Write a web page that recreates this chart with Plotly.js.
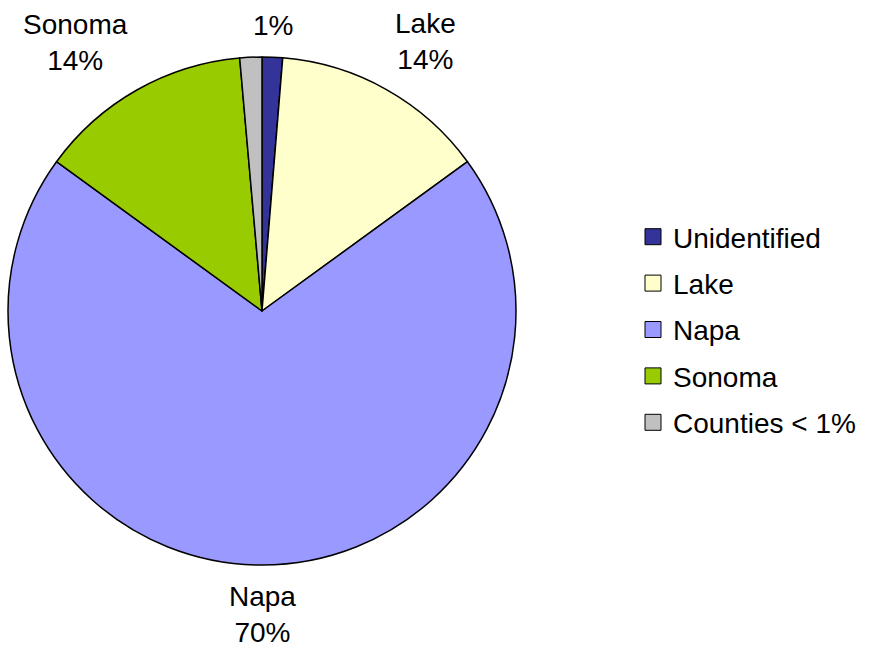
<!DOCTYPE html>
<html>
<head>
<meta charset="utf-8">
<script src="https://cdn.plot.ly/plotly-3.0.1.min.js"></script>
<style>html,body{margin:0;padding:0;background:#fff;}#chart{width:869px;height:652px;}</style>
</head>
<body>
<div id="chart"></div>
<script>
const categories = ["Unidentified", "Lake", "Napa", "Sonoma", "Counties < 1%"];
const values = [1.3, 13.7, 70.0, 13.6, 1.4];
const sliceText = ["1%", "Lake<br>14%", "Napa<br>70%", "Sonoma<br>14%", ""];
const colors = ["#333399", "#FFFFCC", "#9999FF", "#99CC00", "#C0C0C0"];

const W = 869, H = 652;
const FONT = "Liberation Sans, Arial, sans-serif";
const FS = 28;

// pie domain (paper fractions)
const domX = [8 / W, 516 / W];
const domY = [(H - 565) / H, (H - 57) / H];

const pie = {
  type: "pie",
  labels: categories,
  values: values,
  textinfo: "none",
  sort: false,
  direction: "clockwise",
  rotation: 0,
  showlegend: false,
  hoverinfo: "label+percent",
  marker: { colors: colors, line: { color: "#000", width: 1.5 } },
  domain: { x: domX, y: domY }
};

// outside labels, placed at each slice's mid-angle derived from the values
const total = values.reduce((a, b) => a + b, 0);
const cx = (domX[0] + domX[1]) / 2 * W;
const cy = H - (domY[0] + domY[1]) / 2 * H;
const R = Math.min((domX[1] - domX[0]) * W, (domY[1] - domY[0]) * H) / 2;
const GAP = 14;
let cum = 0;
const annotations = [];
values.forEach((v, i) => {
  const mid = (cum + v / 2) / total * 2 * Math.PI;
  cum += v;
  if (!sliceText[i]) return;
  const s = Math.sin(mid), c = Math.cos(mid);
  const px = cx + (R + GAP) * s;
  const py = cy - (R + GAP) * c;
  annotations.push({
    xref: "paper", yref: "paper",
    x: px / W, y: 1 - py / H,
    text: sliceText[i],
    showarrow: false,
    xanchor: Math.abs(s) < 0.2 ? "center" : (s > 0 ? "left" : "right"),
    yanchor: Math.abs(c) < 0.2 ? "middle" : (c > 0 ? "bottom" : "top"),
    font: { family: FONT, size: FS, color: "#000" },
    align: "center"
  });
});

const legendTraces = categories.map((c, i) => ({
  type: "scatter",
  x: [null], y: [null],
  mode: "markers",
  name: c,
  legendgroup: "g" + i,
  showlegend: true,
  marker: { symbol: "square", size: 16, color: colors[i], line: { color: "#000", width: 1 } },
  hoverinfo: "skip"
}));

const layout = {
  width: W, height: H,
  margin: { l: 0, r: 0, t: 0, b: 0 },
  paper_bgcolor: "#fff",
  plot_bgcolor: "#fff",
  font: { family: FONT, size: FS, color: "#000" },
  xaxis: { visible: false },
  yaxis: { visible: false },
  showlegend: true,
  annotations: annotations,
  legend: {
    x: 633 / W, xanchor: "left",
    y: 1 - 212 / H, yanchor: "top",
    font: { family: FONT, size: FS, color: "#000" },
    tracegroupgap: 7,
    bgcolor: "rgba(0,0,0,0)"
  }
};

Plotly.newPlot("chart", [pie].concat(legendTraces), layout, { displayModeBar: false, staticPlot: true });
</script>
</body>
</html>
